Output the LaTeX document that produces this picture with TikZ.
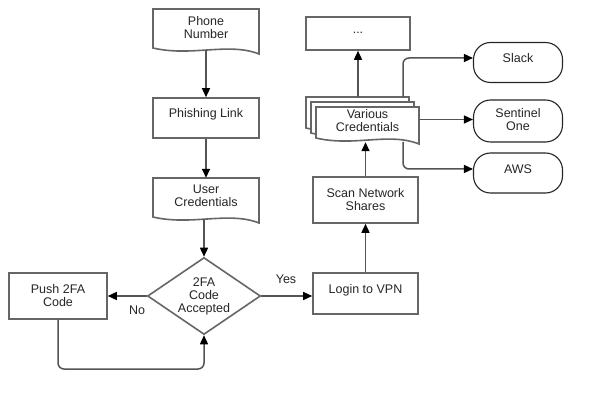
\documentclass[tikz,border=0pt]{standalone}
\usepackage{fontspec}
\setmainfont{Liberation Sans}
\usetikzlibrary{arrows.meta,shapes.geometric}
\begin{document}
\begin{tikzpicture}[x=1pt,y=-1pt,
  boxst/.style={draw=black!60, line width=1.6pt, fill=white, inner sep=0pt},
  holder/.style={inner sep=0pt},
  roundst/.style={draw=black!85, line width=1.1pt, rounded corners=17pt, fill=white, inner sep=0pt},
  txt/.style={font=\fontsize{12.5}{13}\selectfont, text=black!85, align=center, inner sep=0pt},
  conn/.style={draw=black!67, line width=1.5pt, -{Triangle[length=9pt,width=8pt,color=black]}},
  lbl/.style={font=\fontsize{12.5}{13}\selectfont, text=black!85, inner sep=0pt}]
\newcommand\mydoc[4]{\draw[draw=black!60, line width=1.6pt, fill=white] (#1,#2) -- (#3,#2) -- (#3,#4+6) .. controls (#3-30,#4-6) and (#1+38,#4+9) .. (#1,#4) -- cycle;}
\useasboundingbox[fill=white] (0,0) rectangle (601,411);

% Phone number
\mydoc{153}{9}{259}{48}
\node[holder, minimum width=106pt, minimum height=41pt] (phone) at (206,29.5) {};
\node[txt] (phonet) at (206,28) {Phone\\Number};

% Phishing link
\node[boxst, minimum width=106pt, minimum height=40pt] (phish) at (206,118) {};
\node[txt] (phisht) at (206,114) {Phishing Link};

% User credentials
\mydoc{153}{178}{259}{217}
\node[holder, minimum width=106pt, minimum height=41pt] (user) at (206,198.5) {};
\node[txt] (usert) at (206,196) {User\\Credentials};

% Diamond
\node[diamond, draw=black!60, line width=1.6pt, fill=white, minimum width=113pt, minimum height=77pt, inner sep=0pt] (dia) at (204,296) {};
\node[txt] (diat) at (204,296) {2FA\\Code\\Accepted};

% Push 2FA
\node[boxst, minimum width=98pt, minimum height=46pt] (push) at (58,296) {};
\node[txt] (pusht) at (58,296) {Push 2FA\\Code};

% Login
\node[boxst, minimum width=105pt, minimum height=41pt] (login) at (365.5,293.5) {};
\node[txt] (logint) at (365.5,290) {Login to VPN};

% Scan
\node[boxst, minimum width=105pt, minimum height=46pt] (scan) at (365.5,200) {};
\node[txt] (scant) at (365.5,199.5) {Scan Network\\Shares};

% Dots
\node[boxst, minimum width=104pt, minimum height=33pt] (dots) at (358,33.5) {};
\node[txt] (dotst) at (358,33) {...};

% Various credentials
\mydoc{306}{97}{409}{128}
\mydoc{311}{102}{414}{133}
\mydoc{316}{107}{419}{138}
\node[holder, minimum width=113pt, minimum height=45pt] (var) at (362.5,119.5) {};
\node[txt] (vart) at (367.5,121) {Various\\Credentials};

% Rounded targets
\node[roundst, minimum width=89pt, minimum height=40pt] (slack) at (518,62.5) {};
\node[txt] (slackt) at (518,58) {Slack};
\node[roundst, minimum width=89pt, minimum height=42pt] (senti) at (518,121) {};
\node[txt] (sentit) at (518,119.5) {Sentinel\\One};
\node[roundst, minimum width=89pt, minimum height=40pt] (aws) at (518,173) {};
\node[txt] (awst) at (518,169) {AWS};

% Connectors
\draw[conn] (phone.south) -- (phish.north);
\draw[conn] (phish.south) -- (user.north);
\draw[conn] (dia.north |- user.south) -- (dia.north);
\draw[conn] (dia.west) -- (push.east);
\draw[conn] (dia.east) -- (dia.east -| login.west);
\coordinate (loopc) at (58,369);
\draw[conn, rounded corners=6pt] (push.south) -- (loopc) -| (dia.south);
\draw[conn] (login.north) -- (scan.south);
\draw[conn] (scan.north) -- (scan.north |- var.south);
\draw[conn] (var.north -| dots.south) -- (dots.south);
\coordinate (vs) at (403,97);
\draw[conn, rounded corners=6pt] (vs) |- (slackt -| slack.west);
\draw[conn] (sentit -| var.east) -- (sentit -| senti.west);
\coordinate (va) at (403,142);
\draw[conn, rounded corners=6pt] (va) |- (awst -| aws.west);

% Labels
\node[lbl] (yes) at (286,279) {Yes};
\node[lbl] (no) at (137,310) {No};
\end{tikzpicture}
\end{document}
